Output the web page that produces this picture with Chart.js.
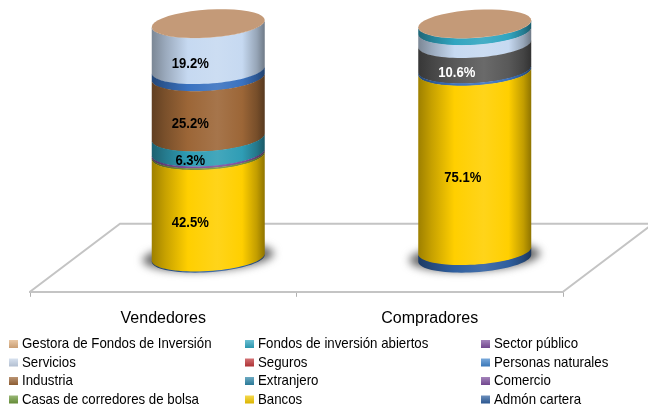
<!DOCTYPE html>
<html><head><meta charset="utf-8">
<style>html,body{margin:0;padding:0;background:#fff}canvas{display:block}</style>
<script src="https://cdn.jsdelivr.net/npm/chart.js@4/dist/chart.umd.min.js"></script>
</head><body><canvas id="c" width="648" height="408"></canvas>
<script>
const categories = ['Vendedores','Compradores'];
const seriesNames = ['Admón cartera','Bancos','Casas de corredores de bolsa','Comercio','Extranjero','Industria','Personas naturales','Seguros','Servicios','Sector público','Fondos de inversión abiertos','Gestora de Fondos de Inversión'];
const admon     = [0.3, 3.0];
const bancos    = [42.5, 75.1];
const casas     = [0.7, 0];
const comercio  = [0.8, 0];
const extranjero= [6.3, 0];
const industria = [25.2, 0];
const personas  = [3.0, 1.0];
const seguros   = [0, 10.6];
const servicios = [19.2, 5.4];
const sector    = [0, 0];
const fondos    = [0, 2.8];
const gestora   = [0.1, 0.1];
const seriesValues = [admon,bancos,casas,comercio,extranjero,industria,personas,seguros,servicios,sector,fondos,gestora];
const seriesColors = ['#2f5f9f','#ffcf00','#77933c','#7d4f9e','#2f9db5','#9c6637','#3a72c0','#c0504d','#c6d9f1','#7d5fa8','#31a5c0','#c49a78'];
const pointOverrides = {7:{1:'#595959'}};
const legendColors = ['#2f5f9f','#f2c800','#6f9a3c','#7d4f9e','#2f86a8','#9c6637','#3f84cc','#c0363a','#c6d4e8','#7d4f9e','#2fa5c0','#e0b080'];
const legendOrder = [11,10,9,8,7,6,5,4,3,2,1,0];
const FONT = '"Liberation Sans", Arial, sans-serif';
const DEPTH_X = 90, DEPTH_Y = 68, TILT = 3.5, RY = 14;

function shade(hex,f){const n=parseInt(hex.slice(1),16);const c=[n>>16,(n>>8)&255,n&255].map(v=>Math.max(0,Math.min(255,Math.round(f>1?v+(255-v)*(f-1):v*f))));return `rgb(${c[0]},${c[1]},${c[2]})`;}
function arc(ctx,cx,cy,rx,from,to,first){const N=40;for(let i=0;i<=N;i++){const t=from+(to-from)*i/N;const x=cx+rx*Math.cos(t),y=cy+RY*Math.sin(t)-TILT*Math.cos(t);if(first&&i===0)ctx.moveTo(x,y);else ctx.lineTo(x,y);}}
function squeezedText(ctx,text,x,y,sx){ctx.save();ctx.translate(x,y);ctx.scale(sx,1);ctx.fillText(text,0,0);ctx.restore();}

Chart.BarElement.prototype.draw = function(ctx){
  const {x,y,base,width,options}=this;
  if(Math.abs(base-y)<0.01)return;
  const cx=x+DEPTH_X/2, rx=width/2, top=y-DEPTH_Y/2, bot=base-DEPTH_Y/2;
  const col=options.backgroundColor;
  const g=ctx.createLinearGradient(cx-rx,0,cx+rx,0);
  g.addColorStop(0,shade(col,0.62));g.addColorStop(0.12,shade(col,0.78));g.addColorStop(0.32,col);
  g.addColorStop(0.58,shade(col,1.1));g.addColorStop(0.8,col);g.addColorStop(0.93,shade(col,0.76));g.addColorStop(1,shade(col,0.56));
  ctx.save();ctx.fillStyle=g;ctx.beginPath();
  arc(ctx,cx,bot+0.4,rx,Math.PI,0,true);
  arc(ctx,cx,top,rx,0,Math.PI,false);
  ctx.closePath();ctx.fill();ctx.restore();
};

const scenePlugin={id:'scene',
  beforeDatasetsDraw(chart){
    const {ctx,chartArea:a}=chart;
    ctx.save();ctx.strokeStyle='#c4c4c4';ctx.lineWidth=2;
    ctx.beginPath();ctx.moveTo(a.left,a.bottom);ctx.lineTo(a.left+DEPTH_X,a.bottom-DEPTH_Y);
    ctx.lineTo(a.right+DEPTH_X,a.bottom-DEPTH_Y);ctx.lineTo(a.right,a.bottom);ctx.stroke();
    const m=chart.getDatasetMeta(0);
    m.data.forEach(el=>{
      ctx.save();ctx.filter='blur(4px)';ctx.fillStyle='#666666';ctx.beginPath();
      arc(ctx,el.x+DEPTH_X/2,el.base-DEPTH_Y/2-1,el.width/2+9,0,Math.PI*2,true);ctx.closePath();ctx.fill();ctx.restore();
    });
    ctx.restore();
  },
  afterDatasetsDraw(chart){
    const {ctx}=chart;
    const last=seriesNames.length-1;
    chart.getDatasetMeta(last).data.forEach(el=>{
      ctx.fillStyle=seriesColors[last];ctx.beginPath();
      arc(ctx,el.x+DEPTH_X/2,el.y-DEPTH_Y/2,el.width/2,0,Math.PI*2,true);ctx.closePath();ctx.fill();
    });
    ctx.save();ctx.textAlign='center';ctx.textBaseline='middle';ctx.font='bold 14.5px '+FONT;
    seriesValues.forEach((vals,i)=>{
      chart.getDatasetMeta(i).data.forEach((el,j)=>{
        if(vals[j]<5||i===8&&j===1)return;
        const nudge=(i===1&&j===1)?6:0;
        ctx.fillStyle=(pointOverrides[i]&&pointOverrides[i][j])?'#ffffff':'#000000';
        squeezedText(ctx,vals[j].toFixed(1)+'%',el.x+DEPTH_X*0.3+nudge,(el.y+el.base)/2-DEPTH_Y/4,0.9);
      });
    });
    ctx.restore();
  },
  afterDraw(chart){
    const {ctx}=chart;
    const cols=[9,245,481],rows=[344,362.5,381,399.5];
    ctx.save();ctx.font='14.5px '+FONT;ctx.textBaseline='middle';ctx.textAlign='left';ctx.fillStyle='#000';
    legendOrder.forEach((s,k)=>{
      const r=Math.floor(k/3),c=k%3,x=cols[c],y=rows[r];
      const g=ctx.createLinearGradient(0,y-4,0,y+4);
      g.addColorStop(0,shade(legendColors[s],1.3));g.addColorStop(1,shade(legendColors[s],0.9));
      ctx.fillStyle=g;ctx.fillRect(x,y-4,9,8);
      ctx.fillStyle='#000';squeezedText(ctx,seriesNames[s],x+13,y,0.915);
    });
    ctx.restore();
  }
};

new Chart(document.getElementById('c'),{
  type:'bar',
  data:{labels:categories,datasets:seriesNames.map((n,i)=>({
    label:n,data:seriesValues[i],clip:false,
    backgroundColor:categories.map((_,j)=>(pointOverrides[i]&&pointOverrides[i][j])||seriesColors[i]),
    barPercentage:1,categoryPercentage:0.424
  }))},
  options:{responsive:false,animation:false,
    layout:{padding:{left:30,right:85,top:53,bottom:68}},
    plugins:{legend:{display:false},tooltip:{enabled:false},title:{display:false}},
    scales:{
      x:{stacked:true,grid:{drawOnChartArea:false,drawTicks:true,tickLength:5,color:'#b0b0b0',lineWidth:1},
         border:{display:true,color:'#c4c4c4',width:2},
         ticks:{color:'#000',font:{family:FONT,size:16},padding:12,autoSkip:false,maxRotation:0}},
      y:{stacked:true,display:false,min:0,max:100}
    }},
  plugins:[scenePlugin]
});
</script></body></html>
